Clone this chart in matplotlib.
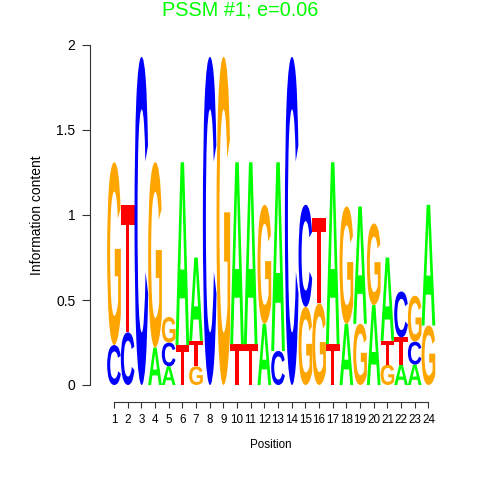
import matplotlib
matplotlib.use("Agg")
import matplotlib.pyplot as plt
from matplotlib.textpath import TextPath
from matplotlib.patches import PathPatch
from matplotlib.font_manager import FontProperties
from matplotlib.transforms import Affine2D
import numpy as np

positions = list(range(1, 25))
# information content contributed by each base at each position
A = [0.00, 0.00, 0.00, 0.22, 0.11, 1.075, 0.49, 0.00, 0.00, 1.07, 1.07, 0.36,
     1.11, 0.00, 0.00, 0.00, 1.07, 0.36, 0.69, 0.47, 0.49, 0.12, 0.12, 0.71]
C = [0.235, 0.31, 1.93, 0.00, 0.14, 0.00, 0.00, 1.93, 0.00, 0.00, 0.00, 0.00,
     0.20, 1.93, 0.60, 0.00, 0.00, 0.00, 0.00, 0.00, 0.00, 0.27, 0.135, 0.00]
G = [1.075, 0.00, 0.00, 1.09, 0.15, 0.00, 0.11, 0.00, 1.93, 0.00, 0.00, 0.70,
     0.00, 0.00, 0.46, 0.48, 0.00, 0.69, 0.36, 0.48, 0.12, 0.00, 0.27, 0.35]
T = [0.00, 0.75, 0.00, 0.00, 0.00, 0.235, 0.15, 0.00, 0.00, 0.24, 0.24, 0.00,
     0.00, 0.00, 0.00, 0.50, 0.24, 0.00, 0.00, 0.00, 0.14, 0.16, 0.00, 0.00]
bases = ["A", "C", "G", "T"]
colors = {"A": "#00FF00", "C": "#0000FF", "G": "#FFA500", "T": "#FF0000"}
yticks = [0, 0.5, 1, 1.5, 2]
ytick_labels = ["0", "0.5", "1", "1.5", "2"]
title = "PSSM #1; e=0.06"

fig = plt.figure(figsize=(4.8, 4.8), dpi=100)
W = 480.0
px_unit_x = 13.67
px_unit_y = 170.0
xlo, xhi = 1 - 24 / px_unit_x, 25.6
ylo, yhi = -0.1, 2.1
ax_w = (xhi - xlo) * px_unit_x / W
ax_h = (yhi - ylo) * px_unit_y / W
ax = fig.add_axes([90 / W, (480 - 402) / W, ax_w, ax_h])
ax.set_xlim(xlo, xhi)
ax.set_ylim(ylo, yhi)

fp = FontProperties(family="Liberation Sans", weight="bold")
glyphs = {}
for b in bases:
    tp = TextPath((0, 0), b, size=1, prop=fp)
    glyphs[b] = tp

def draw_letter(b, xc, y0, h, w=1.0):
    tp = glyphs[b]
    ext = tp.get_extents()
    tr = (Affine2D().translate(-ext.x0, -ext.y0)
          .scale(w / ext.width, h / ext.height)
          .translate(xc - w / 2, y0))
    path = tr.transform_path(tp)
    patch = PathPatch(path, facecolor=colors[b], edgecolor="none", lw=0, clip_on=False)
    ax.add_patch(patch)

vals = {"A": A, "C": C, "G": G, "T": T}
for i, p in enumerate(positions):
    col = [(vals[b][i], b) for b in bases if vals[b][i] > 0]
    col.sort()
    y = 0.0
    for h, b in col:
        draw_letter(b, p, y, h)
        y += h

for s in ["top", "right"]:
    ax.spines[s].set_visible(False)
ax.spines["left"].set_bounds(0, 2)
ax.spines["bottom"].set_bounds(1, 24)
ax.spines["bottom"].set_position(("data", -0.1))
for s in ["left", "bottom"]:
    ax.spines[s].set_linewidth(0.8)
    ax.spines[s].set_color("#333333")

ax.set_xticks(positions)
ax.set_xticklabels([str(p) for p in positions], fontsize=8.4, family="Liberation Sans")
ax.set_yticks(yticks)
ax.set_yticklabels(ytick_labels, fontsize=10, family="Liberation Sans")
ax.tick_params(axis="x", length=4.5, width=0.8, pad=4, color="#333333")
ax.tick_params(axis="y", length=5.5, width=0.8, pad=5, color="#333333")

fig.text(37 / W, 1 - 215 / W, "Information content", rotation=90, ha="center", va="center",
         fontsize=10, family="Liberation Sans")
fig.text(271 / W, 1 - 445 / W, "Position", ha="center", va="center",
         fontsize=8.4, family="Liberation Sans")
fig.text(0.5, 1 - 10 / W, title, ha="center", va="center", fontsize=14.3,
         color="#00FF00", family="Liberation Sans")

fig.savefig("out.png", dpi=100)
